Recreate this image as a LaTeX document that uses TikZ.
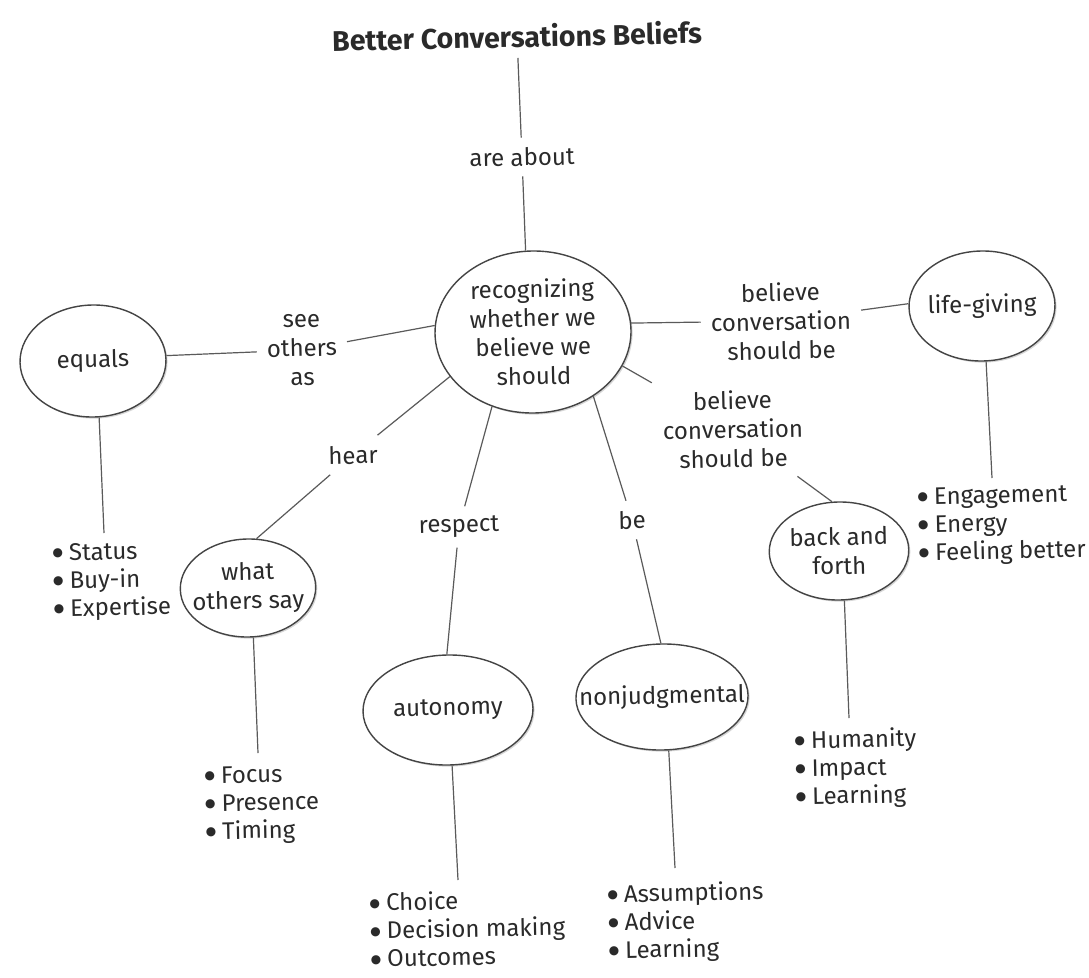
\documentclass[tikz,border=0pt]{standalone}
\usepackage{fontspec}
\setmainfont{Fira Sans}
\newfontfamily\symfont{DejaVu Sans}
\usetikzlibrary{shapes.geometric,shadows}
\definecolor{ink}{HTML}{2A2A2A}
\definecolor{edge}{HTML}{5A5A5A}
\definecolor{rim}{HTML}{444444}
\newcommand{\bulitem}{\raisebox{4.2pt}{\symfont\fontsize{12}{12}\selectfont ●}\hspace{6pt}}
\begin{document}
\begin{tikzpicture}[x=1pt,y=-1pt,
  every node/.style={text=ink, font=\fontsize{24}{29}\selectfont, rotate=1.2},
  bubble/.style={ellipse, draw=rim, line width=1.4pt, fill=white, inner sep=0pt, align=center,
    drop shadow={shadow xshift=1.6pt, shadow yshift=-1.6pt, fill=black, opacity=0.16}},
  lbl/.style={inner sep=10pt, align=center},
  itemlist/.style={inner sep=0pt, align=left, anchor=west, font=\fontsize{24}{28}\selectfont},
  conn/.style={draw=edge, line width=1.2pt},
]
\fill[white] (0,0) rectangle (1089,977);
\useasboundingbox (0,0) rectangle (1089,977);

% title and centre
\node[lbl, font=\bfseries\fontsize{28.5}{34}\selectfont] (title) at (517,36) {Better Conversations Beliefs};
\node[lbl] (about) at (522,157) {are about};
\node[bubble, minimum width=196pt, minimum height=162pt] (core) at (533,332) {recognizing\\whether we\\believe we\\should};

% link labels
\node[lbl] (see) at (302,350) {see\\others\\as};
\node[lbl] (hear) at (353,455) {hear};
\node[lbl] (respect) at (459,527) {respect};
\node[lbl] (be) at (632,520) {be};
\node[lbl] (bel1) at (781,321) {believe\\conversation\\should be};
\node[lbl] (bel2) at (733,429) {believe\\conversation\\should be};

% concept bubbles
\node[bubble, minimum width=146pt, minimum height=112pt] (equals) at (93,361) {equals};
\node[bubble, minimum width=134pt, minimum height=98pt, inner xsep=-8pt] (what) at (248,588) {what\\others say};
\node[bubble, minimum width=170pt, minimum height=110pt] (auto) at (448,710) {autonomy};
\node[bubble, minimum width=164pt, minimum height=106pt, inner xsep=-22pt] (nonj) at (662,697) {nonjudgmental};
\node[bubble, minimum width=146pt, minimum height=110pt, inner xsep=-4pt] (life) at (982,306) {life-giving};
\node[bubble, minimum width=134pt, minimum height=98pt] (back) at (839,551) {back and\\forth};

% lists
\node[itemlist] (eqlist) at (53,583) {\bulitem Status\\\bulitem Buy-in\\\bulitem Expertise};
\node[itemlist] (whatlist) at (205,806) {\bulitem Focus\\\bulitem Presence\\\bulitem Timing};
\node[itemlist] (autolist) at (370,930) {\bulitem Choice\\\bulitem Decision making\\\bulitem Outcomes};
\node[itemlist] (nonjlist) at (608,924) {\bulitem Assumptions\\\bulitem Advice\\\bulitem Learning};
\node[itemlist] (backlist) at (795,770) {\bulitem Humanity\\\bulitem Impact\\\bulitem Learning};
\node[itemlist] (lifelist) at (918,527) {\bulitem Engagement\\\bulitem Energy\\\bulitem Feeling better};

% free ends of the list connectors
\coordinate (eqend) at (104,533);
\coordinate (whatend) at (258,753);
\coordinate (autoend) at (458,880);
\coordinate (nonjend) at (675,868);
\coordinate (backend) at (849,718);
\coordinate (lifeend) at (992,478);

% connectors
\draw[conn] (title) -- (about);
\draw[conn] (about) -- (core.94);
\draw[conn] (core.175) -- (see);
\draw[conn] (see) -- (equals.3);
\draw[conn] (core.207) -- (hear);
\draw[conn] (hear) -- (what.79);
\draw[conn] (core.240) -- (respect);
\draw[conn] (respect) -- (auto.90);
\draw[conn] (core.-48) -- (be);
\draw[conn] (be) -- (nonj.90);
\draw[conn] (core.4) -- (bel1);
\draw[conn] (bel1) -- (life.177);
\draw[conn] (core.-22) -- (bel2);
\draw[conn] (bel2) -- (back.97);

\draw[conn] (equals.-85) -- (eqend);
\draw[conn] (what.-85) -- (whatend);
\draw[conn] (auto.-87) -- (autoend);
\draw[conn] (nonj.-84) -- (nonjend);
\draw[conn] (back.-85) -- (backend);
\draw[conn] (life.-87) -- (lifeend);
\end{tikzpicture}
\end{document}
